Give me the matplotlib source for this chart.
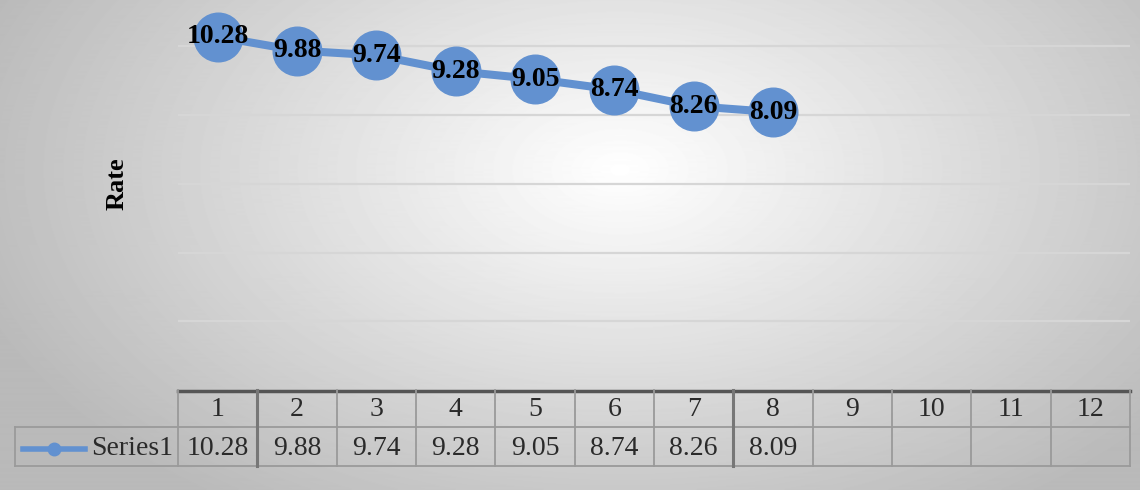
import matplotlib.pyplot as plt
import numpy as np

categories = [str(i) for i in range(1, 13)]
series_name = "Series1"
rate = [10.28, 9.88, 9.74, 9.28, 9.05, 8.74, 8.26, 8.09]

W, H = 1140, 490
fig = plt.figure(figsize=(W / 100, H / 100), dpi=100)

# gray radial background
bg = fig.add_axes([0, 0, 1, 1], zorder=0)
yy, xx = np.mgrid[0:H, 0:W]
r = np.sqrt(((xx - 620) / 700.0) ** 2 + ((yy - 170) / 420.0) ** 2)
shade = np.clip(1.0 - 0.28 * r, 0.73, 1.0)
bg.imshow(shade, cmap="gray", vmin=0, vmax=1, extent=[0, W, H, 0], aspect="auto")
bg.axis("off")

blue = "#6291d0"
serif = "Liberation Serif"

left_px, right_px, axis_px = 178, 1130, 390
ax = fig.add_axes([left_px / W, (H - axis_px) / H, (right_px - left_px) / W, axis_px / H], zorder=2)
ax.patch.set_alpha(0)
x = np.arange(1, len(rate) + 1)
ax.plot(x, rate, color=blue, lw=5.8, marker="o", ms=35, mfc=blue, mec=blue, zorder=3)
for xi, v in zip(x, rate):
    ax.text(xi, v, f"{v:.2f}", ha="center", va="center", fontsize=20, fontweight="bold",
            family=serif, color="black", zorder=4)
ax.set_xlim(0.5, 12.5)
ax.set_ylim(0, 11.35)
ax.set_yticks([2, 4, 6, 8, 10])
ax.grid(axis="y", color="#d6d6d6", lw=1.6)
ax.set_axisbelow(True)
ax.tick_params(left=False, bottom=False, labelleft=False, labelbottom=False)
for s in ax.spines.values():
    s.set_visible(False)
fig.text(117 / W, 1 - 184 / H, "Rate", rotation=90, ha="center", va="center",
         fontsize=19, fontweight="bold", family=serif)

# data table under the axis
cw = (right_px - left_px) / 12.0
tab_left = 15
x0 = 0.5 - (left_px - tab_left) / cw
top_px, mid_px, bot_px = 390, 427, 467
tax = fig.add_axes([tab_left / W, (H - bot_px) / H, (right_px - tab_left) / W, (bot_px - top_px) / H], zorder=2)
tax.set_xlim(x0, 12.5)
tax.set_ylim(bot_px, top_px)
tax.axis("off")
grid_c = "#9a9a9a"
tax.plot([0.5, 12.5], [top_px + 1, top_px + 1], color="#555555", lw=2.5, clip_on=False)
tax.plot([x0, 12.5], [mid_px, mid_px], color=grid_c, lw=1.3, clip_on=False)
tax.plot([x0, 12.5], [bot_px - 1, bot_px - 1], color=grid_c, lw=1.3, clip_on=False)
tax.plot([x0, x0], [mid_px, bot_px - 1], color=grid_c, lw=1.3, clip_on=False)
for k in range(13):
    xb = 0.5 + k
    dark = k in (1, 7)
    tax.plot([xb, xb], [top_px, bot_px - 1], color="#777777" if dark else grid_c,
             lw=2.2 if dark else 1.3, clip_on=False)
for k, c in enumerate(categories):
    tax.text(k + 1, (top_px + mid_px) / 2 + 1, c, ha="center", va="center", fontsize=20,
             family=serif, color="#2a2a2a")
for k, v in enumerate(rate):
    tax.text(k + 1, (mid_px + bot_px) / 2 + 1, f"{v:.2f}", ha="center", va="center", fontsize=20,
             family=serif, color="#2a2a2a")
# legend key
ky = (mid_px + bot_px) / 2 + 2
kx0 = x0 + 8 / cw
kx1 = x0 + 70 / cw
tax.plot([kx0, kx1], [ky, ky], color=blue, lw=4, clip_on=False)
tax.plot([(kx0 + kx1) / 2], [ky], "o", color=blue, ms=9, clip_on=False)
tax.text(0.5 - 5 / cw, (mid_px + bot_px) / 2 + 1, series_name, ha="right", va="center",
         fontsize=20, family=serif, color="#2a2a2a")

fig.savefig("out.png", dpi=100)
